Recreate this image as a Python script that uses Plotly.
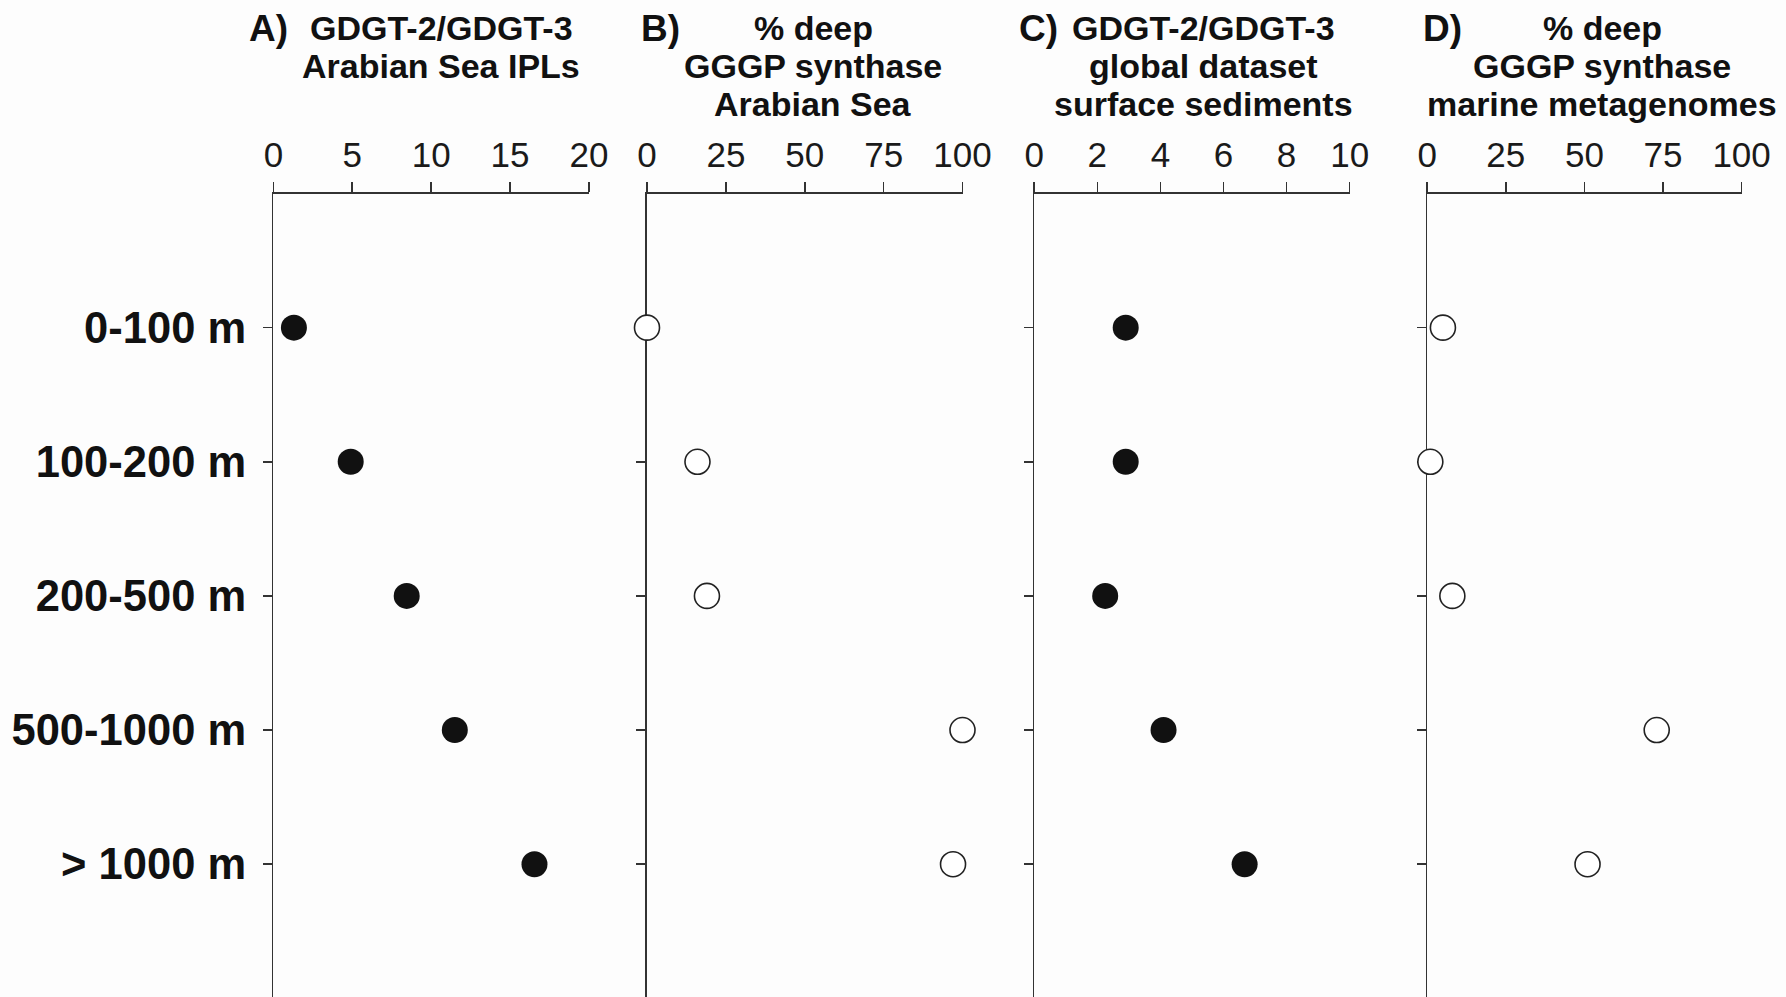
import plotly.graph_objects as go

# ---------------- data ----------------
depth_labels = ["0-100 m", "100-200 m", "200-500 m", "500-1000 m", "> 1000 m"]

ratio_arabian_ipl = [1.3, 4.9, 8.45, 11.5, 16.55]      # A) GDGT-2/GDGT-3 Arabian Sea IPLs
deep_gggp_arabian = [0, 16, 19, 100, 97]               # B) % deep GGGP synthase Arabian Sea
ratio_global_sed = [2.9, 2.9, 2.25, 4.1, 6.67]         # C) GDGT-2/GDGT-3 global dataset surface sediments
deep_gggp_marine = [5, 1, 8, 73, 51]                   # D) % deep GGGP synthase marine metagenomes

panel_letters = ["A)", "B)", "C)", "D)"]
panel_titles = [
    ["GDGT-2/GDGT-3", "Arabian Sea IPLs"],
    ["% deep", "GGGP synthase", "Arabian Sea"],
    ["GDGT-2/GDGT-3", "global dataset", "surface sediments"],
    ["% deep", "GGGP synthase", "marine metagenomes"],
]
x_ranges = [[0, 20], [0, 100], [0, 10], [0, 100]]
x_ticks = [[0, 5, 10, 15, 20], [0, 25, 50, 75, 100], [0, 2, 4, 6, 8, 10], [0, 25, 50, 75, 100]]
series = [ratio_arabian_ipl, deep_gggp_arabian, ratio_global_sed, deep_gggp_marine]
filled = [True, False, True, False]

# ---------------- layout geometry (pixels) ----------------
W, H = 1786, 997
axis_px = [(273.4, 588.9), (647, 962.5), (1034.2, 1349.7), (1427.2, 1741.6)]
top_px = 193.5
title_cx = [441, 813, 1203, 1602]
letter_x = [247, 639, 1017, 1421]
line_y = [28, 66, 104]

AX = "#333333"
FONT = "Liberation Sans, Arial, Helvetica, sans-serif"

fig = go.Figure()

for i in range(4):
    xa = "x" if i == 0 else f"x{i+1}"
    ya = "y" if i == 0 else f"y{i+1}"
    if filled[i]:
        marker = dict(size=26, color="#111111", line=dict(width=0))
    else:
        marker = dict(size=25, color="white", line=dict(width=1.6, color="#222222"))
    fig.add_trace(go.Scatter(
        x=series[i], y=depth_labels, mode="markers", marker=marker,
        xaxis=xa, yaxis=ya, cliponaxis=False, showlegend=False,
    ))

layout = dict(
    width=W, height=H,
    margin=dict(l=0, r=0, t=0, b=0, autoexpand=False),
    paper_bgcolor="#fdfdfd", plot_bgcolor="rgba(0,0,0,0)",
    font=dict(family=FONT, color="#111111"),
)

y_top = 1 - top_px / H
for i in range(4):
    xk = "xaxis" if i == 0 else f"xaxis{i+1}"
    yk = "yaxis" if i == 0 else f"yaxis{i+1}"
    ya = "y" if i == 0 else f"y{i+1}"
    xa = "x" if i == 0 else f"x{i+1}"
    x0, x1 = axis_px[i]
    layout[xk] = dict(
        domain=[x0 / W, x1 / W], range=x_ranges[i], anchor=ya, side="top",
        showline=True, linecolor=AX, linewidth=1.6, showgrid=False, zeroline=False,
        ticks="outside", ticklen=10, tickwidth=1.6, tickcolor=AX,
        tickvals=x_ticks[i], ticktext=[str(v) for v in x_ticks[i]],
        tickfont=dict(family=FONT, size=35, color="#1a1a1a"),
        ticklabelstandoff=1, automargin=False, fixedrange=True,
        layer="below traces",
    )
    layout[yk] = dict(
        domain=[0, y_top], anchor=xa, type="category",
        categoryorder="array", categoryarray=depth_labels,
        range=[4.99, -1.0],
        showline=True, linecolor=AX, linewidth=1.6, showgrid=False, zeroline=False,
        ticks="outside", ticklen=9, tickwidth=1.6, tickcolor=AX,
        showticklabels=(i == 0),
        tickfont=dict(family=FONT, size=43.5, weight="bold", color="#111111"),
        ticklabelstandoff=8, automargin=False, fixedrange=True,
        layer="below traces",
    )

annotations = []
for i in range(4):
    annotations.append(dict(
        text=panel_letters[i], xref="paper", yref="paper",
        x=letter_x[i] / W, y=1 - line_y[0] / H, xanchor="left", yanchor="middle",
        showarrow=False, font=dict(family=FONT, size=37, weight="bold", color="#111111"),
    ))
    for j, t in enumerate(panel_titles[i]):
        annotations.append(dict(
            text=t, xref="paper", yref="paper",
            x=title_cx[i] / W, y=1 - line_y[j] / H, xanchor="center", yanchor="middle",
            showarrow=False, font=dict(family=FONT, size=34, weight="bold", color="#111111"),
        ))
layout["annotations"] = annotations

fig.update_layout(**layout)
fig.write_html(
    "out.html",
    config={"displayModeBar": False, "staticPlot": True},
    post_script="document.body.style.margin='0';document.body.style.padding='0';"
                "document.body.style.overflow='hidden';",
)
